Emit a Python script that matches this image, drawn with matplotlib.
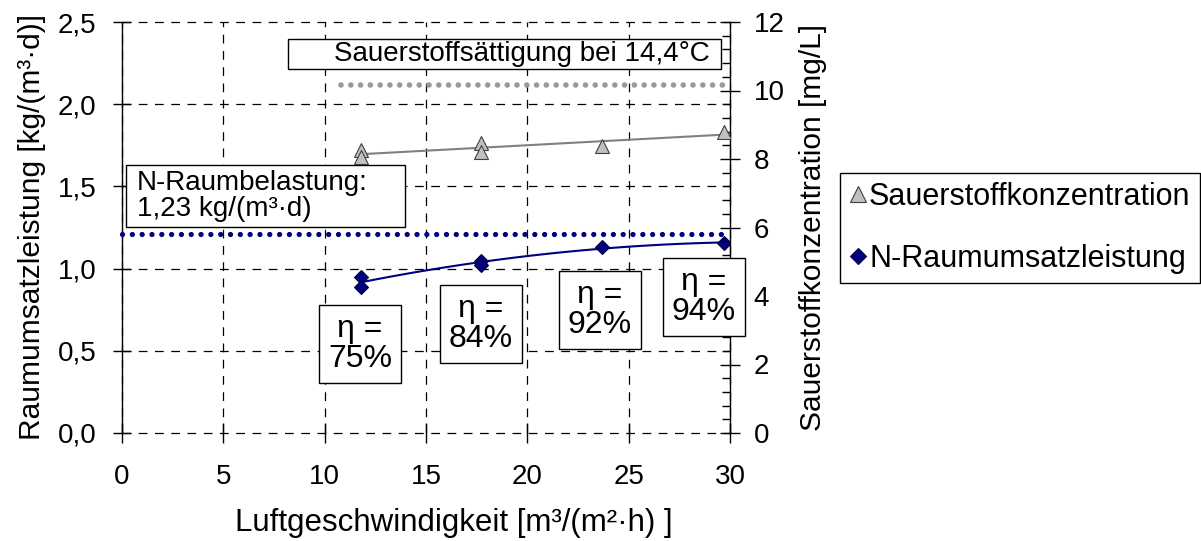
import numpy as np
import matplotlib
matplotlib.use("Agg")
import matplotlib.pyplot as plt
from matplotlib.patches import Rectangle
from matplotlib.ticker import FuncFormatter, MultipleLocator

plt.rcParams["font.family"] = ["Liberation Sans", "DejaVu Sans"]

# data
x_o2 = [11.8, 11.8, 17.7, 17.7, 23.7, 29.7]
o2 = [8.26, 8.06, 8.46, 8.21, 8.38, 8.80]
x_n = [11.8, 11.8, 17.7, 17.7, 23.7, 29.7]
n_rate = [0.951, 0.886, 1.048, 1.022, 1.131, 1.156]
n_load = 1.21          # N-Raumbelastung line (left axis)
o2_sat = 10.15         # saturation line (right axis)
o2_sat_x = [10.8, 30]
eta_x = [11.74, 17.69, 23.58, 28.7]
eta_y = [0.542, 0.662, 0.75, 0.827]
eta_lbl = ["75%", "84%", "92%", "94%"]

NAVY = "#000080"
GREY = "#C0C0C0"

fig = plt.figure(figsize=(12.01, 5.41), dpi=100)
ax = fig.add_axes([122 / 1201, 1 - 433 / 541, 608 / 1201, 411 / 541])
ax2 = ax.twinx()

ax.set_xlim(0, 30)
ax.set_ylim(0, 2.5)
ax2.set_ylim(0, 12)
ax.set_xticks(range(0, 31, 5))
ax.set_yticks(np.arange(0, 2.51, 0.5))
ax.yaxis.set_major_formatter(FuncFormatter(lambda v, p: f"{v:.1f}".replace(".", ",")))
ax2.set_yticks(range(0, 13, 2))
ax2.yaxis.set_minor_locator(MultipleLocator(0.4))

for a in (ax, ax2):
    a.spines["top"].set_visible(False)
    a.spines["bottom"].set_visible(False)
ax.spines["right"].set_visible(False)
ax2.spines["left"].set_visible(False)
ax.spines["left"].set_linewidth(1.0)
ax2.spines["right"].set_linewidth(1.0)

ax.grid(True, color="black", linestyle=(0, (7, 6)), linewidth=0.9)
for gl in ax.get_ygridlines() + ax.get_xgridlines():
    gl.set_clip_on(False)
ax.set_axisbelow(True)
ax.tick_params(axis="x", direction="inout", length=14, width=1, labelsize=20, pad=15)
ax.tick_params(axis="y", direction="inout", length=13, width=1, labelsize=20, pad=12)
ax2.tick_params(axis="y", which="major", direction="inout", length=14, width=1, labelsize=20, pad=10)
ax2.tick_params(axis="y", which="minor", direction="in", length=6, width=1)

# oxygen concentration (right axis)
ax2.plot(x_o2, o2, linestyle="none", marker="^", markersize=9.5, markerfacecolor=GREY,
         markeredgecolor="#404040", markeredgewidth=0.8, zorder=4)
c = np.polyfit(x_o2, o2, 1)
xf = np.linspace(min(x_o2), max(x_o2), 50)
ax2.plot(xf, np.polyval(c, xf), color="#808080", linewidth=1.5, zorder=3)
ax2.plot(o2_sat_x, [o2_sat, o2_sat], color="#999999", linewidth=4.0,
         linestyle=(0, (0.01, 1.75)), dash_capstyle="round", zorder=3)

# N conversion (left axis)
ax.plot(x_n, n_rate, linestyle="none", marker="D", markersize=7.5, markerfacecolor=NAVY,
        markeredgecolor="#000040", markeredgewidth=0.8, zorder=4)
c2 = np.polyfit(x_n, n_rate, 2)
ax.plot(xf, np.polyval(c2, xf), color=NAVY, linewidth=1.5, zorder=3)
ax.plot([0, 30], [n_load, n_load], color=NAVY, linewidth=3.8,
        linestyle=(0, (0.01, 1.85)), dash_capstyle="round", zorder=3, clip_on=False)

# text boxes
ax.add_patch(Rectangle((0.273, 0.8856), 0.712, 0.073, transform=ax.transAxes,
                       facecolor="white", edgecolor="black", linewidth=1.0, zorder=5))
ax.text(0.966, 0.922, "Sauerstoffsättigung bei 14,4°C", transform=ax.transAxes,
        ha="right", va="center", fontsize=20, zorder=6)
ax.add_patch(Rectangle((0.0066, 0.501), 0.459, 0.151, transform=ax.transAxes,
                       facecolor="white", edgecolor="black", linewidth=1.0, zorder=5))
ax.text(0.0247, 0.577, "N-Raumbelastung:\n1,23 kg/(m³·d)", transform=ax.transAxes,
        ha="left", va="center", fontsize=20, linespacing=1.0, zorder=6)
# eta boxes sit on the twin axes so they cover the right spine
for xe, ye, lb in zip(eta_x, eta_y, eta_lbl):
    ax2.text(xe, ye, "η =\n" + lb, transform=ax.transData, ha="center", va="center",
             fontsize=23, linespacing=1.0, zorder=6, clip_on=False,
             bbox=dict(boxstyle="square,pad=0.28", facecolor="white", edgecolor="black", linewidth=1.0))

ax.set_xlabel("Luftgeschwindigkeit [m³/(m²·h) ]", fontsize=22.5, labelpad=13, x=0.546)
ax.set_ylabel("Raumumsatzleistung [kg/(m³·d)]", fontsize=21.5, labelpad=8)
ax2.set_ylabel("Sauerstoffkonzentration [mg/L]", fontsize=21.5, labelpad=10)

# legend
h1, = ax.plot([], [], linestyle="none", marker="^", markersize=12, markerfacecolor=GREY,
              markeredgecolor="#404040", markeredgewidth=0.8)
h2, = ax.plot([], [], linestyle="none", marker="D", markersize=8.5, markerfacecolor=NAVY,
              markeredgecolor="#000040", markeredgewidth=0.8)
leg = fig.legend([h1, h2], ["Sauerstoffkonzentration", "N-Raumumsatzleistung"],
                 loc="center left", bbox_to_anchor=(840 / 1201, 1 - 228 / 541),
                 fontsize=22, frameon=True, fancybox=False, edgecolor="black",
                 framealpha=1, handlelength=0.55, handletextpad=0.1, labelspacing=1.05,
                 borderpad=0.3, borderaxespad=0)
leg.get_frame().set_linewidth(1.0)

fig.savefig("out.png", dpi=100)
